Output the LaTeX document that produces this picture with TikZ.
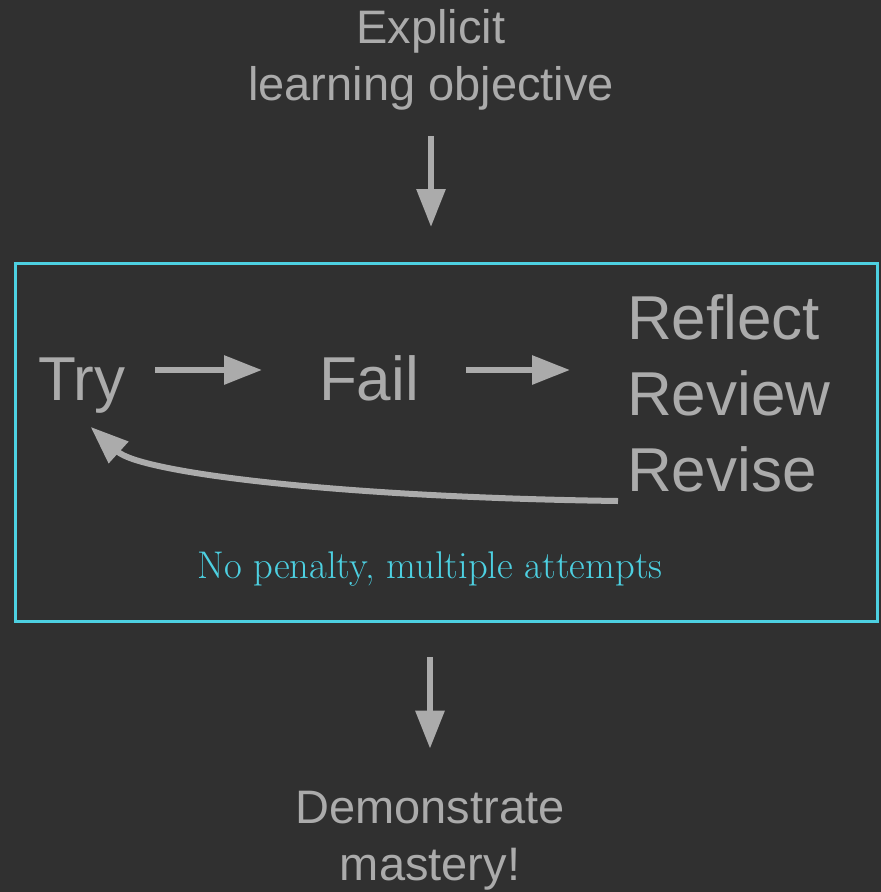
\documentclass[tikz,border=0pt]{standalone}
\usepackage{fontspec}
\setsansfont{Liberation Sans}
\usetikzlibrary{positioning,arrows.meta}
\definecolor{bgc}{HTML}{303030}
\definecolor{txt}{HTML}{ABABAB}
\definecolor{cyanline}{HTML}{4DD0E1}
\tikzset{
  big/.style  = {inner sep=0pt, outer sep=0pt, text=txt, align=center,
                 font=\sffamily\fontsize{47}{57}\selectfont},
  huge/.style = {inner sep=0pt, outer sep=0pt, text=txt, align=left,
                 font=\sffamily\fontsize{62}{76}\selectfont},
  note/.style = {inner sep=0pt, text=cyanline,
                 font=\rmfamily\fontsize{38.6}{42}\selectfont},
  loopbox/.style = {rectangle, draw=cyanline, line width=3pt,
                 minimum width=862pt, minimum height=358pt,
                 inner sep=0pt, outer sep=0pt},
  arr/.style  = {-{Triangle[length=38pt,width=28pt]}, line width=6pt, draw=txt}
}
\begin{document}
\begin{tikzpicture}[x=1pt,y=-1pt]
  \fill[bgc] (0,0) rectangle (881,892);
  \useasboundingbox (0,0) rectangle (881,892);
  \node[big,anchor=base] (goal) at (431,100) {Explicit\\learning objective};
  \node[loopbox] (loop) at (446,442) {};
  \node[huge,anchor=base west] (try) at (38,400) {Try};
  \node[huge,anchor=base west] (fail) at (319,400) {Fail};
  \node[huge,anchor=base west] (rrr) at (627,491) {Reflect\\Review\\Revise};
  \node[note,anchor=base] (pen) at (430,578) {No penalty, multiple attempts};
  \node[big,anchor=base] (end) at (430,880) {Demonstrate\\mastery!};
  \coordinate (back) at (618,501);
  % arrows
  \draw[arr,shorten <=26pt,shorten >=36pt] (goal.south) -- (goal.south |- loop.north);
  \draw[arr,shorten <=30pt,shorten >=57pt] ([yshift=30pt]try.base east) -- ([yshift=30pt]fail.base west);
  \draw[arr,shorten <=47pt,shorten >=57pt] ([yshift=30pt]fail.base east) -- ([yshift=30pt]fail.base east -| rrr.west);
  \draw[arr] (back) .. controls (330,497) and (140,472) .. ([xshift=9pt,yshift=-14pt]try.south);
  \draw[arr,shorten <=36pt,shorten >=42pt] (loop.south -| end.north) -- (end.north);
\end{tikzpicture}
\end{document}
